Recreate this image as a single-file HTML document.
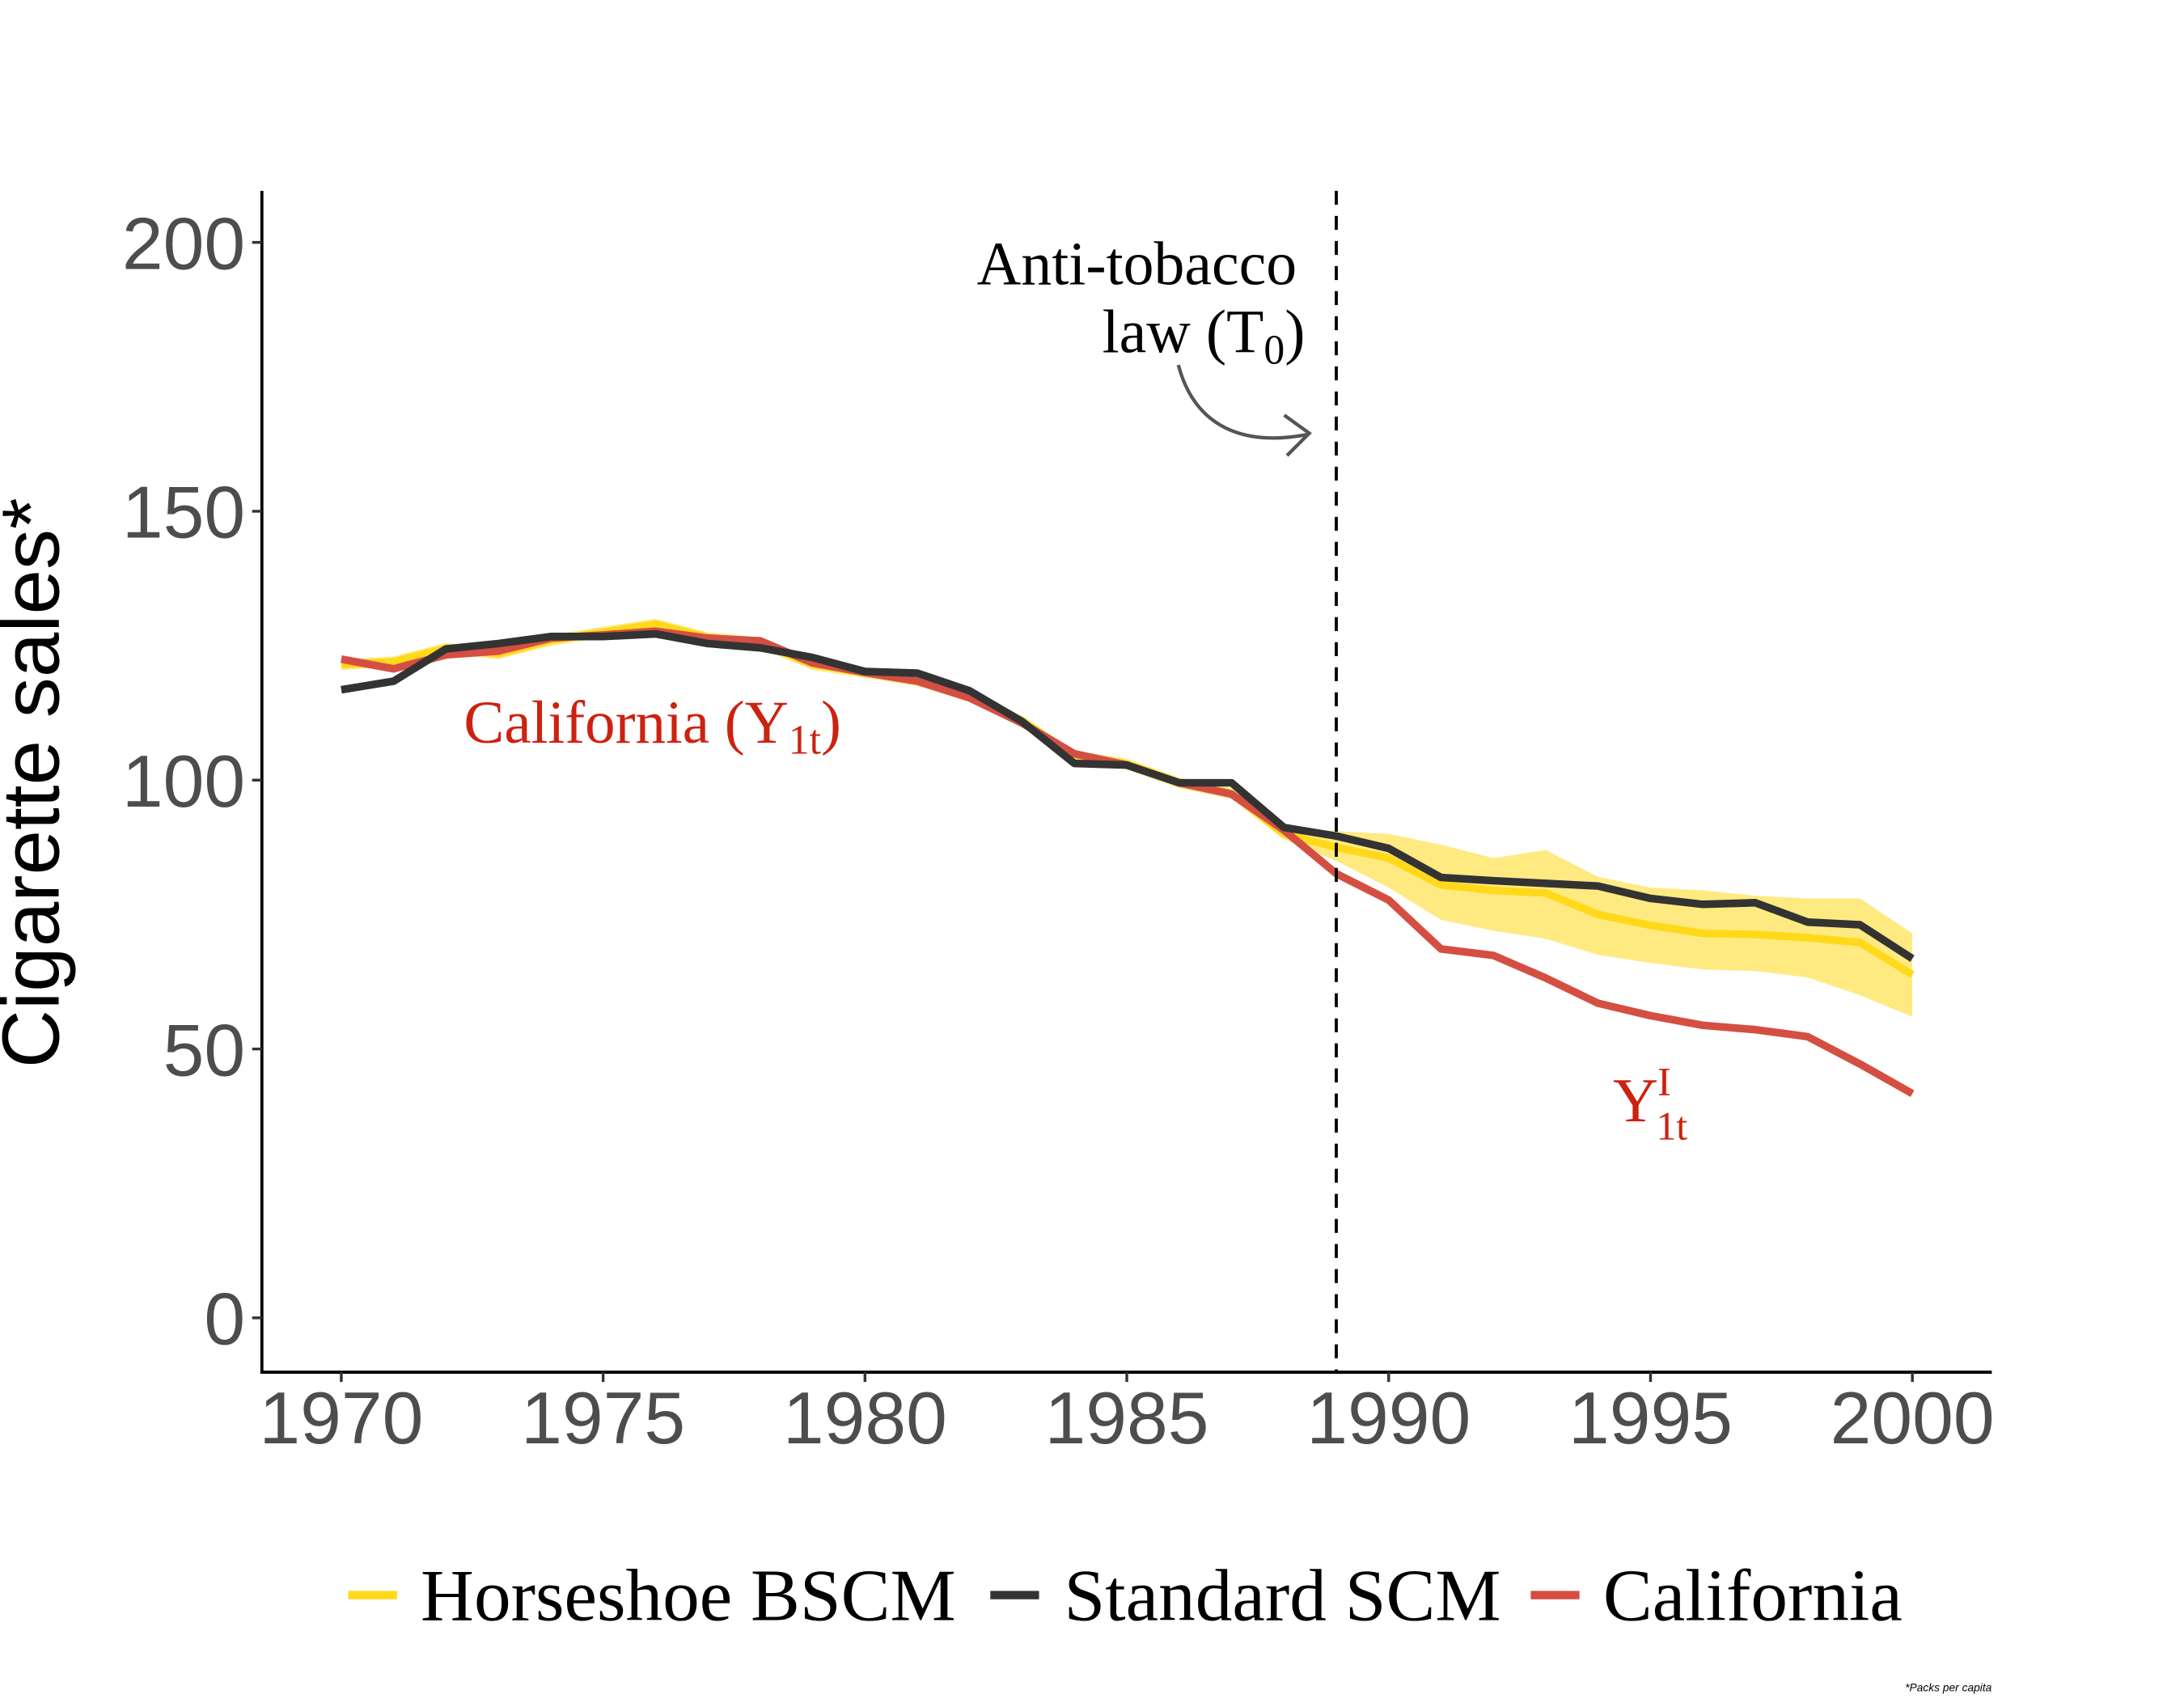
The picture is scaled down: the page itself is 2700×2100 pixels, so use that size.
<!DOCTYPE html>
<html><head><meta charset="utf-8">
<style>
html,body{margin:0;padding:0;background:#fff;}
svg{display:block;}
.tick{font-family:"Liberation Sans",sans-serif;font-size:53px;fill:#4d4d4d;}
.serif{font-family:"Liberation Serif",serif;}
</style></head>
<body>
<svg id="chart" width="2700" height="2100" viewBox="0 0 1568 1219.6" xmlns="http://www.w3.org/2000/svg">
<g id="plot"></g>
<g id="annot">
  <text class="serif" x="931" y="204" font-size="44" text-anchor="end">Anti-tobacco</text>
  <text class="serif" x="937" y="253" font-size="44" text-anchor="end">law (T<tspan font-size="30" dy="8">0</tspan><tspan dy="-8">)</tspan></text>
  <path d="M846,262 C856,300 885,322 938,312" fill="none" stroke="#555" stroke-width="2.5"/>
  <path d="M922,298 L940,311 L924,327" fill="none" stroke="#555" stroke-width="2.5"/>
  <text class="serif" x="333" y="533" font-size="43.5" fill="#CC2211">California (Y<tspan font-size="30" dy="8">1t</tspan><tspan dy="-8">)</tspan></text>
  <g class="serif" fill="#CC2211">
    <text x="1158" y="805" font-size="45">Y</text>
    <text x="1190" y="786" font-size="29">I</text>
    <text x="1189" y="818" font-size="29">1t</text>
  </g>
  <text transform="translate(42,562) rotate(-90)" text-anchor="middle" font-family="Liberation Sans, sans-serif" font-size="58" fill="#000">Cigarette sales*</text>
</g>
<g id="legend">
  <line x1="250" y1="1145" x2="285" y2="1145" stroke="#FFD91A" stroke-width="6"/>
  <text class="serif" x="302" y="1163" font-size="53">Horseshoe BSCM</text>
  <line x1="711" y1="1145" x2="746" y2="1145" stroke="#333333" stroke-width="6"/>
  <text class="serif" x="764" y="1163" font-size="53">Standard SCM</text>
  <line x1="1099" y1="1145" x2="1134" y2="1145" stroke="#D44F42" stroke-width="6"/>
  <text class="serif" x="1151" y="1163" font-size="53">California</text>
</g>
<text x="1430" y="1214" text-anchor="end" font-family="Liberation Sans, sans-serif" font-style="italic" font-size="8">*Packs per capita</text>
</svg>
<script>
const years = [1970,1971,1972,1973,1974,1975,1976,1977,1978,1979,1980,1981,1982,1983,1984,1985,1986,1987,1988,1989,1990,1991,1992,1993,1994,1995,1996,1997,1998,1999,2000];
const california = [122.5,120.7,123.3,124,126.4,127,127.7,126.4,125.9,121.8,120,118.4,115.3,110.6,104.9,102.8,99.5,97.4,90.7,82.6,77.7,68.6,67.4,63.2,58.5,56.2,54.4,53.6,52.3,47.2,41.7];
const standardScm = [116.8,118.4,124.4,125.4,126.7,126.7,127.2,125.4,124.6,122.8,120.2,119.9,116.6,110.9,103.1,102.8,99.5,99.5,91.2,89.6,87.3,81.9,81.3,80.8,80.3,78,76.9,77.2,73.6,73.1,66.8];
const horseshoe = [121.5,122,124.5,123.5,126,127.5,129,126.5,125.5,121.5,120,118.5,115.5,111,104.5,103,99.5,97.5,90,87.5,85.5,80.5,79.5,79,75,73,71.5,71.3,70.7,69.8,63.8];
const bandUpper = [122.5,123,125.5,124.5,127,128.5,130,127.5,126.5,122.5,121,119.5,116.5,112,105.5,104,100.5,98.5,91,90.5,90,88,85.5,87,82,80,79.5,78.5,78,78,71.5];
const bandLower = [120.5,121,123.5,122.5,125,126.5,128,125.5,124.5,120.5,119,117.5,114.5,110,103.5,102,98.5,96.5,89,85,80,74,72,70.5,67.5,66,64.8,64.5,63.3,60,56];
const xTicks = [1970,1975,1980,1985,1990,1995,2000];
const yTicks = [0,50,100,150,200];
const treatYear = 1989;

const NS='http://www.w3.org/2000/svg';
const plot=document.getElementById('plot');
const xs=y=>245+(y-1970)*(1373-245)/30;
const ys=v=>946-v*(946-174)/200;
function mk(tag,attrs){const e=document.createElementNS(NS,tag);for(const k in attrs)e.setAttribute(k,attrs[k]);plot.appendChild(e);return e;}

let d='M'+years.map((y,i)=>xs(y)+','+ys(bandUpper[i])).join('L');
d+='L'+years.map((y,i)=>xs(y)+','+ys(bandLower[i])).reverse().join('L')+'Z';
const band=mk('path',{d:d,fill:'#FFD91A','fill-opacity':0.55,stroke:'none'});



function line(vals,color,name){
  const p=mk('polyline',{points:years.map((y,i)=>xs(y)+','+ys(vals[i])).join(' '),fill:'none',stroke:color,'stroke-width':5.5,'stroke-linejoin':'round'});
  
  
}
line(horseshoe,'#FFD91A','horseshoe-bscm-line');
line(california,'#D44F42','california-line');
line(standardScm,'#333333','standard-scm-line');

const ax=mk('path',{d:'M188,137 L188,985 L1430,985',fill:'none',stroke:'#000','stroke-width':2.2});


const vl=mk('line',{x1:xs(treatYear),x2:xs(treatYear),y1:137,y2:985,stroke:'#000','stroke-width':2.2,'stroke-dasharray':'10,8'});



xTicks.forEach(t=>{
  const tk=mk('line',{x1:xs(t),x2:xs(t),y1:985,y2:992,stroke:'#333','stroke-width':2});
  
  
  const tx=mk('text',{x:xs(t),y:1036,'text-anchor':'middle',class:'tick'});
  tx.textContent=t;
  
  
});
yTicks.forEach(t=>{
  const tk=mk('line',{x1:181,x2:188,y1:ys(t),y2:ys(t),stroke:'#333','stroke-width':2});
  
  
  const tx=mk('text',{x:176,y:ys(t)+19,'text-anchor':'end',class:'tick'});
  tx.textContent=t;
  
  
});
</script>
</body></html>
